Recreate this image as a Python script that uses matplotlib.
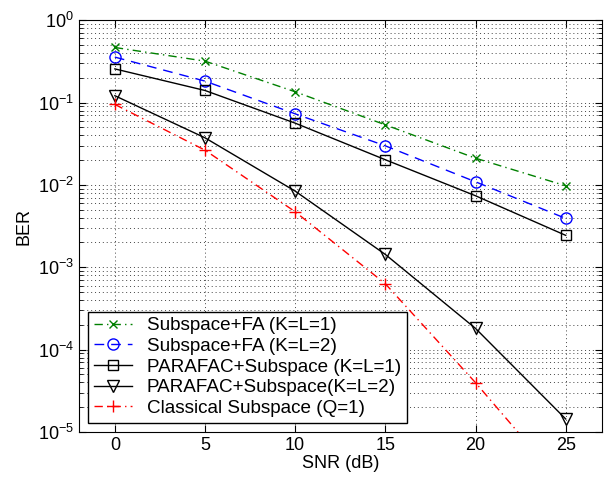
import numpy as np
import matplotlib
matplotlib.use('Agg')
import matplotlib.pyplot as plt
from matplotlib.ticker import LogLocator, NullFormatter, FixedLocator

plt.rcParams['font.family'] = ['Liberation Sans', 'DejaVu Sans']
plt.rcParams['mathtext.fontset'] = 'custom'
plt.rcParams['mathtext.rm'] = 'Liberation Sans'

# Data
SNR = [0, 5, 10, 15, 20, 25]
Sub_FA_1 = [0.466, 0.318, 0.135, 0.0536, 0.0211, 0.00975]
Sub_FA_2 = [0.356, 0.182, 0.0729, 0.0298, 0.0109, 0.00392]
Parafac_1 = [0.256, 0.140, 0.0562, 0.0202, 0.00738, 0.00244]
Parafac_2 = [0.121, 0.0373, 0.0084, 0.00143, 1.81e-4, 1.44e-5]
Classical = [0.0948, 0.0264, 0.00472, 6.3e-4, 3.97e-5, 2.1e-6]

Labels = ['Subspace+FA (K=L=1)', 'Subspace+FA (K=L=2)',
          'PARAFAC+Subspace (K=L=1)', 'PARAFAC+Subspace(K=L=2)',
          'Classical Subspace (Q=1)']

fig = plt.figure(figsize=(6.06, 4.8), dpi=100)
ax = fig.add_axes([0.130, 0.100, 0.863, 0.858])

ax.semilogy(SNR, Sub_FA_1, color='#008000', linestyle=(0, (6, 3, 1, 3)), marker='x',
            markersize=6, linewidth=1, label=Labels[0])
ax.semilogy(SNR, Sub_FA_2, color='blue', linestyle=(0, (7, 5)), marker='o',
            markersize=8, markerfacecolor='none', linewidth=1, label=Labels[1])
ax.semilogy(SNR, Parafac_1, color='black', linestyle='-', marker='s',
            markersize=7, markerfacecolor='none', linewidth=1, label=Labels[2])
ax.semilogy(SNR, Parafac_2, color='black', linestyle='-', marker='v',
            markersize=8, markerfacecolor='none', linewidth=1, label=Labels[3])
ax.semilogy(SNR, Classical, color='red', linestyle=(0, (6, 3, 1, 3)), marker='+',
            markersize=9, linewidth=1, label=Labels[4])

ax.set_xlim(-2, 27)
ax.set_ylim(1e-5, 1)
ax.xaxis.set_major_locator(FixedLocator(SNR))
ax.yaxis.set_major_locator(LogLocator(base=10, numticks=10))
ax.yaxis.set_minor_locator(LogLocator(base=10, subs=np.arange(2, 10), numticks=10))
ax.yaxis.set_minor_formatter(NullFormatter())

ax.grid(True, which='major', linestyle=(0, (1, 3)), color='#444444', linewidth=0.7)
ax.grid(True, which='minor', axis='y', linestyle=(0, (1, 3)), color='#444444', linewidth=0.7)
ax.tick_params(which='both', direction='in', top=True, right=True, labelsize=13)
ax.tick_params(which='major', length=5)
ax.tick_params(which='minor', length=3)

ax.set_xlabel('SNR (dB)', fontsize=13, labelpad=1)
ax.set_ylabel('BER', fontsize=13, labelpad=4)

leg = ax.legend(loc='lower left', fontsize=13.6, fancybox=False, framealpha=1,
                edgecolor='black', handlelength=2.0, borderpad=0.3,
                labelspacing=0.18, handletextpad=0.8,
                bbox_to_anchor=(0.0, 0.0))
leg.get_frame().set_linewidth(1)

fig.savefig('out.png', dpi=100)
